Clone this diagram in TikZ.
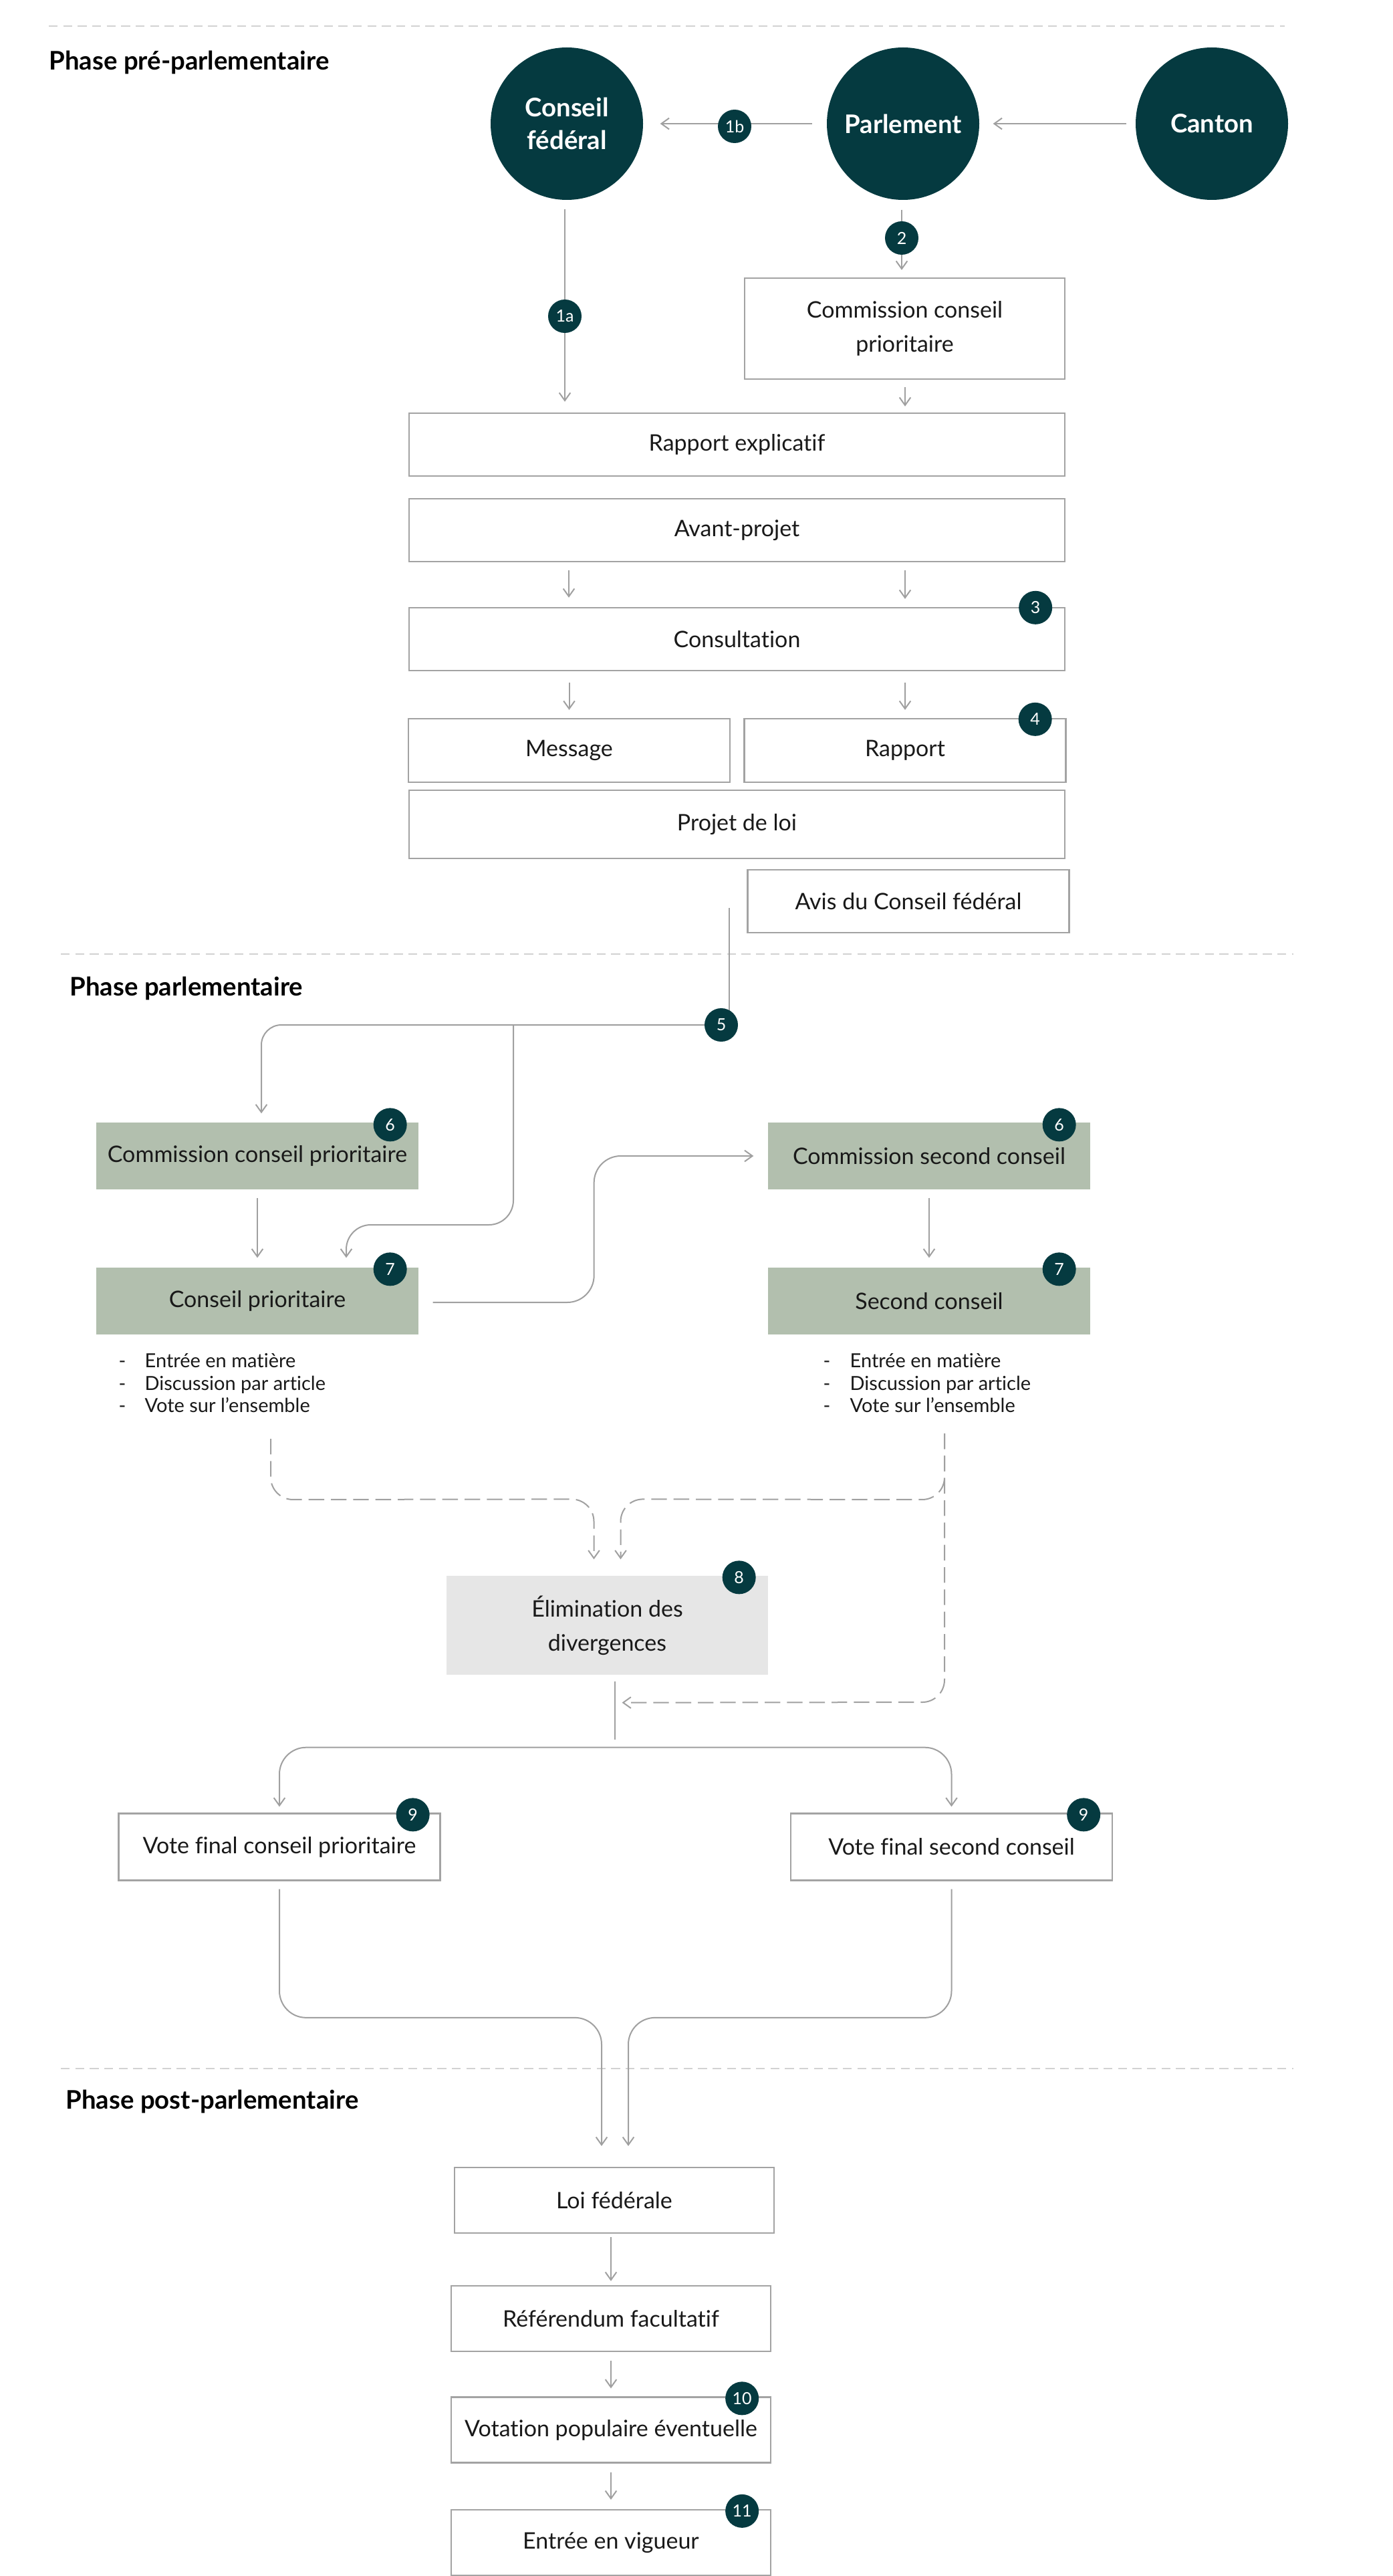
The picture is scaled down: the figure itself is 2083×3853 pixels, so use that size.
\documentclass[tikz,border=0pt]{standalone}
\usepackage{fontspec}
\setmainfont{Lato}[Ligatures=NoCommon]
\usetikzlibrary{arrows.meta,calc}
\definecolor{darkteal}{HTML}{053A40}
\definecolor{sage}{HTML}{B2BFAE}
\definecolor{elimgray}{HTML}{E6E6E6}
\definecolor{bordergray}{HTML}{A3A3A3}
\definecolor{linegray}{HTML}{A0A0A0}
\definecolor{sepgray}{HTML}{D2D2D2}
\begin{document}
\begin{tikzpicture}[x=0.3pt,y=-0.3pt,
  boxfont/.style={font=\fontsize{10.2pt}{15.2pt}\selectfont},
  box/.style={draw=bordergray,line width=0.7pt,fill=white,inner sep=0pt,align=center,text=black!90,boxfont},
  wide/.style={minimum width=294.3pt,minimum height=28.2pt},
  narrow/.style={minimum width=144.3pt,minimum height=28.5pt},
  gbox/.style={fill=sage,inner sep=0pt,align=center,text=black!90,minimum width=144.6pt,minimum height=30pt,boxfont},
  ebox/.style={fill=elimgray,inner sep=0pt,align=center,text=black!90,minimum width=144.3pt,minimum height=44.4pt,boxfont},
  bigc/.style={circle,fill=darkteal,text=white,minimum size=68.4pt,inner sep=0pt,align=center,font=\bfseries\fontsize{11.5pt}{14.7pt}\selectfont},
  badge/.style={circle,fill=darkteal,text=white,minimum size=15pt,inner sep=0pt,font=\fontsize{7.5pt}{8pt}\selectfont},
  heading/.style={anchor=west,inner sep=0pt,font=\bfseries\fontsize{11.5pt}{13pt}\selectfont},
  bul/.style={anchor=base west,inner sep=0pt,text=black!90,font=\fontsize{8.7pt}{10pt}\selectfont},
  sep/.style={draw=sepgray,line width=0.8pt,dash pattern=on 4pt off 2.5pt},
  line/.style={draw=linegray,line width=0.6pt},
  arr/.style={line,-{Straight Barb[length=3.5pt,width=5pt]}},
  arrboth/.style={line,{Straight Barb[length=3.5pt,width=5pt]}-{Straight Barb[length=3.5pt,width=5pt]}},
  darr/.style={arr,dash pattern=on 7pt off 3pt}
]
\fill[white] (0,0) rectangle (2083,3853);
\useasboundingbox (0,0) rectangle (2083,3853);

% separators
\draw[sep] (73,39) -- (1922,39);
\draw[sep] (91,1427) -- (1935,1427);
\draw[sep] (91,3094) -- (1935,3094);

% headings
\node[heading] (h1) at (73,93) {Phase pré-parlementaire};
\node[heading] (h2) at (104,1478) {Phase parlementaire};
\node[heading] (h3) at (98,3143) {Phase post-parlementaire};

% circles
\node[bigc] (cf) at (848,185) {Conseil\\fédéral};
\node[bigc] (parl) at (1351,185) {Parlement};
\node[bigc] (canton) at (1813,185) {Canton};

% boxes
\node[box,minimum width=143.7pt,minimum height=45.3pt] (ccp1) at (1353.5,491.5) {Commission conseil\\prioritaire};
\node[box,wide] (rapexp) at (1102.5,665) {Rapport explicatif};
\node[box,wide] (avant) at (1102.5,793) {Avant-projet};
\node[box,wide] (consult) at (1102.5,956) {Consultation};
\node[box,narrow] (message) at (851.5,1122.5) {Message};
\node[box,narrow] (rapport) at (1354,1122.5) {Rapport};
\node[box,wide,minimum height=30.6pt] (projet) at (1102.5,1233) {Projet de loi};
\node[box,narrow,minimum height=28.2pt] (avis) at (1359,1348) {Avis du Conseil fédéral};

\node[gbox] (ccpg) at (385,1729) {Commission conseil prioritaire};
\node[gbox] (csc) at (1390,1729) {Commission second conseil};
\node[gbox] (cp) at (385,1946) {Conseil prioritaire};
\node[gbox] (sc) at (1390,1946) {Second conseil};

\foreach \t [count=\i] in {Entrée en matière,Discussion par article,Vote sur l’ensemble}{
  \node[bul] (ldash\i) at (177,{2012+33.5*\i}) {-};
  \node[bul] (ltext\i) at (216,{2012+33.5*\i}) {\t};
  \node[bul] (rdash\i) at (1231,{2012+33.5*\i}) {-};
  \node[bul] (rtext\i) at (1271,{2012+33.5*\i}) {\t};
}

\node[ebox] (elim) at (908.5,2431) {Élimination des\\divergences};
\node[box,narrow,minimum height=30pt] (vfcp) at (418,2762.5) {Vote final conseil prioritaire};
\node[box,narrow,minimum height=30pt] (vfsc) at (1423.5,2762.5) {Vote final second conseil};

\node[box,minimum width=143.4pt,minimum height=29.4pt] (loi) at (919,3291) {Loi fédérale};
\node[box,minimum width=143.4pt,minimum height=29.4pt] (ref) at (914,3468) {Référendum facultatif};
\node[box,minimum width=143.4pt,minimum height=29.4pt] (vot) at (914,3634.5) {Votation populaire éventuelle};
\node[box,minimum width=143.4pt,minimum height=29.4pt] (ent) at (914,3803) {Entrée en vigueur};

% connectors, top
\draw[arr] ([xshift=-4pt]canton.west) -- ([xshift=6pt]parl.east);
\draw[arr] ([xshift=-6.5pt]parl.west) -- ([xshift=7.5pt]cf.east);
\draw[arr] ($(cf.south)+(-3,13)$) -- ($(rapexp.north)+(-257.5,-16)$);
\draw[arr] ($(parl.south)+(-2,14)$) -- ($(ccp1.north)+(-4.5,-11)$);
\draw[arr] ($(ccp1.south)+(0.5,11)$) -- ($(rapexp.north)+(251.5,-9)$);
\draw[arr] ($(avant.south)+(-251.5,12)$) -- ($(consult.north)+(-251.5,-14)$);
\draw[arr] ($(avant.south)+(251.5,12)$) -- ($(consult.north)+(251.5,-12)$);
\draw[arr] ($(consult.south)+(-251,17)$) -- ($(message.north)+(0,-12)$);
\draw[arr] ($(consult.south)+(251.5,17)$) -- ($(rapport.north)+(0,-12)$);

% to parliament phase
\coordinate (b5c) at (1079,1533);
\coordinate (avisline) at ($(avis.west)+(-26,10)$);
\coordinate (j5) at (768,1533);
\draw[line] (avisline) -- (avisline |- b5c);
\draw[arr,rounded corners=9pt] (b5c) -| ($(ccpg.north)+(6,-13)$);
\draw[arr,rounded corners=11pt] (j5) -- ++(0,299) -| ($(cp.north)+(133,-14)$);
\draw[arr] ($(ccpg.south)+(0,12)$) -- ($(cp.north)+(0,-14)$);
\draw[arr] ($(csc.south)+(0,12)$) -- ($(sc.north)+(0,-14)$);
\draw[arr,rounded corners=12pt] ($(cp.east)+(21,2)$) -- ++(241,0) |- ($(csc.west)+(-21,0)$);

% dashed
\coordinate (ld) at (405,2152);
\coordinate (rd) at (1413,2144);
\draw[darr,rounded corners=10pt] (ld) -- (405,2243) -- ($(elim.north)+(-20,-114)$) -- ($(elim.north)+(-20,-24)$);
\draw[darr,rounded corners=10pt] (rd) -- (1413,2243) -- ($(elim.north)+(20,-114)$) -- ($(elim.north)+(20,-24)$);
\draw[darr,rounded corners=10pt] (rd) -- (1413,2546) -- ($(elim.south)+(22,41)$);

% final votes
\draw[line] ($(elim.south)+(11.5,9)$) -- ++(0,87);
\draw[arrboth,rounded corners=12pt] ($(vfcp.north)+(0,-9)$) |- ($(elim.south)+(0,108)$) -| ($(vfsc.north)+(0,-9)$);
\draw[arr,rounded corners=12pt] ($(vfcp.south)+(0,12)$) |- ($(loi.north)+(-19,-223)$) -- ($(loi.north)+(-19,-31)$);
\draw[arr,rounded corners=12pt] ($(vfsc.south)+(0,12)$) |- ($(loi.north)+(21,-223)$) -- ($(loi.north)+(21,-31)$);

% post
\draw[arr] ($(loi.south)+(-5,5)$) -- ($(ref.north)+(0,-6)$);
\draw[arr] ($(ref.south)+(0,13)$) -- ($(vot.north)+(0,-12)$);
\draw[arr] ($(vot.south)+(0,13)$) -- ($(ent.north)+(0,-14)$);

% badges
\node[badge] (b1a) at (845,473) {1a};
\node[badge] (b1b) at (1099,189) {1b};
\node[badge] (b2) at (1349,356) {2};
\node[badge] (b3) at ($(consult.north east)+(-45,1)$) {3};
\node[badge] (b4) at ($(rapport.north east)+(-47,2)$) {4};
\node[badge] (b5) at (b5c) {5};
\node[badge] (b6a) at ($(ccpg.north east)+(-43,4)$) {6};
\node[badge] (b6b) at ($(csc.north east)+(-47,4)$) {6};
\node[badge] (b7a) at ($(cp.north east)+(-43,3)$) {7};
\node[badge] (b7b) at ($(sc.north east)+(-47,3)$) {7};
\node[badge] (b8) at ($(elim.north east)+(-44,3)$) {8};
\node[badge] (b9a) at ($(vfcp.north east)+(-42,3)$) {9};
\node[badge] (b9b) at ($(vfsc.north east)+(-44,3)$) {9};
\node[badge] (b10) at ($(vot.north east)+(-44,3)$) {10};
\node[badge] (b11) at ($(ent.north east)+(-44,3)$) {11};
\end{tikzpicture}
\end{document}
